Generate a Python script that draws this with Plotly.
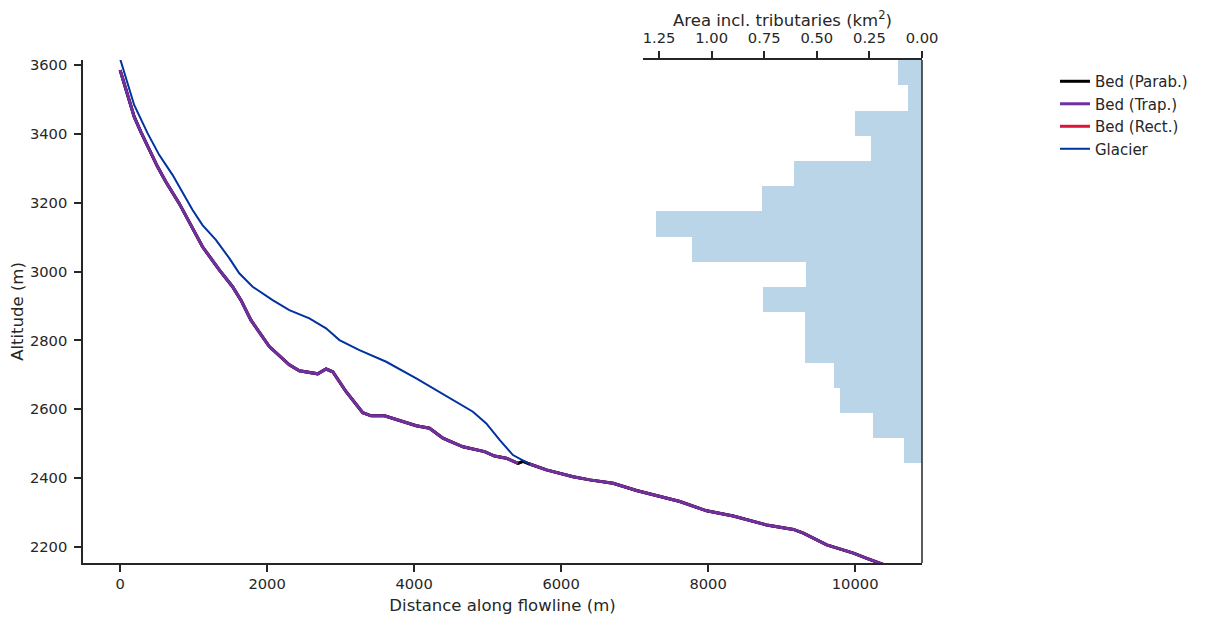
import plotly.graph_objects as go

# ---- data ----
glacier_x = [0, 191, 373, 531, 713, 986, 1121, 1303, 1485, 1621, 1803, 2075, 2302, 2575,
             2802, 2984, 3256, 3620, 4029, 4301, 4800, 4982, 5163, 5345, 5572]
glacier_z = [3618, 3484, 3402, 3339, 3281, 3179, 3135, 3092, 3039, 2995, 2956, 2917, 2888, 2864,
             2835, 2801, 2772, 2738, 2690, 2656, 2593, 2559, 2511, 2467, 2441]

bed_x = [0, 191, 282, 508, 622, 804, 1121, 1349, 1530, 1644, 1780, 2030, 2302, 2439, 2688,
         2802, 2893, 3075, 3301, 3415, 3597, 3892, 4029, 4210, 4392, 4665, 4959, 5095, 5254,
         5413, 5481, 5572, 5800, 6163, 6390, 6707, 7025, 7616, 7980, 8342, 8797, 9160, 9296,
         9614, 9977, 10159, 10341, 10500]
bed_z = [3585, 3450, 3406, 3305, 3261, 3198, 3072, 3005, 2956, 2917, 2859, 2782, 2729, 2712, 2703,
         2717, 2709, 2651, 2590, 2581, 2581, 2562, 2552, 2545, 2516, 2491, 2477, 2464, 2458,
         2443, 2449, 2441, 2424, 2404, 2395, 2385, 2364, 2332, 2305, 2290, 2264, 2251, 2240,
         2206, 2182, 2167, 2153, 2140]
# bed points that are trapezoidal (parabolic segment at 5481 only)
trap_mask = [xv != 5481 for xv in bed_x]

band_edges = [2444, 2517, 2590, 2662, 2735, 2809, 2882, 2955, 3028, 3100, 3176, 3249, 3321,
              3394, 3466, 3542, 3614]
band_area = [0.084, 0.231, 0.392, 0.420, 0.558, 0.558, 0.757, 0.553, 1.094, 1.264, 0.762,
             0.610, 0.240, 0.316, 0.065, 0.116]

x_ticks = [0, 2000, 4000, 6000, 8000, 10000]
y_ticks = [2200, 2400, 2600, 2800, 3000, 3200, 3400, 3600]
area_ticks = [1.25, 1.00, 0.75, 0.50, 0.25, 0.00]

# ---- figure ----
FONT = "DejaVu Sans"
TXT = "#262626"
TICK_SIZE = 14.7
LABEL_SIZE = 16.5
fig = go.Figure()

band_mid = [(band_edges[i] + band_edges[i + 1]) / 2 for i in range(len(band_area))]
band_h = [band_edges[i + 1] - band_edges[i] for i in range(len(band_area))]
fig.add_trace(go.Bar(x=band_area, y=band_mid, width=band_h, orientation="h",
                     xaxis="x2", yaxis="y", marker=dict(color="#bad5e8", line=dict(width=0)),
                     showlegend=False, hoverinfo="skip"))

# draw order: rect (hidden underneath), parab, trap, glacier
fig.add_trace(go.Scatter(x=bed_x, y=bed_z, mode="lines", name="Bed (Rect.)",
                         line=dict(color="#dc143c", width=3), legendrank=3))
fig.add_trace(go.Scatter(x=bed_x, y=bed_z, mode="lines", name="Bed (Parab.)",
                         line=dict(color="black", width=3), legendrank=1))
trap_z = [z if m else None for z, m in zip(bed_z, trap_mask)]
fig.add_trace(go.Scatter(x=bed_x, y=trap_z, mode="lines", name="Bed (Trap.)",
                         line=dict(color="#7030a0", width=3), legendrank=2, connectgaps=False))
fig.add_trace(go.Scatter(x=glacier_x, y=glacier_z, mode="lines", name="Glacier",
                         line=dict(color="#0033a0", width=2), legendrank=4))

axis_common = dict(showgrid=False, zeroline=False, showline=True, linecolor=TXT, linewidth=1.5,
                   ticks="outside", ticklen=7, tickwidth=1.5, tickcolor=TXT, automargin=False,
                   tickfont=dict(family=FONT, size=TICK_SIZE, color=TXT))

fig.update_layout(
    width=1202, height=615,
    margin=dict(l=75, r=288, t=52, b=60),
    plot_bgcolor="rgba(0,0,0,0)", paper_bgcolor="white",
    font=dict(family=FONT, size=TICK_SIZE, color=TXT),
    bargap=0,
    xaxis=dict(range=[-505, 10910], tickvals=x_ticks, ticktext=[str(v) for v in x_ticks],
               domain=[0, 1],
               title=dict(text="Distance along flowline (m)", font=dict(size=LABEL_SIZE), standoff=8),
               **axis_common),
    yaxis=dict(range=[2153.5, 3614.5], tickvals=y_ticks, ticktext=[str(v) for v in y_ticks],
               ticklabelstandoff=4,
               title=dict(text="Altitude (m)", font=dict(size=LABEL_SIZE), standoff=8),
               **axis_common),
    xaxis2=dict(range=[1.326, 0], tickvals=area_ticks, ticktext=[f"{v:.2f}" for v in area_ticks],
                domain=[0.6675, 1], anchor="y", side="top", ticklabelstandoff=2,
                title=dict(text="Area incl. tributaries (km<sup>2</sup>)", font=dict(size=LABEL_SIZE), standoff=7),
                **axis_common),
    legend=dict(x=1.1585, y=0.99, xanchor="left", yanchor="top", bgcolor="rgba(0,0,0,0)",
                font=dict(family=FONT, size=15, color=TXT)),
    shapes=[dict(type="line", xref="paper", yref="paper", x0=1, x1=1, y0=0, y1=1,
                 line=dict(color=TXT, width=1.5), layer="above")],
)

fig.write_html("out.html")
